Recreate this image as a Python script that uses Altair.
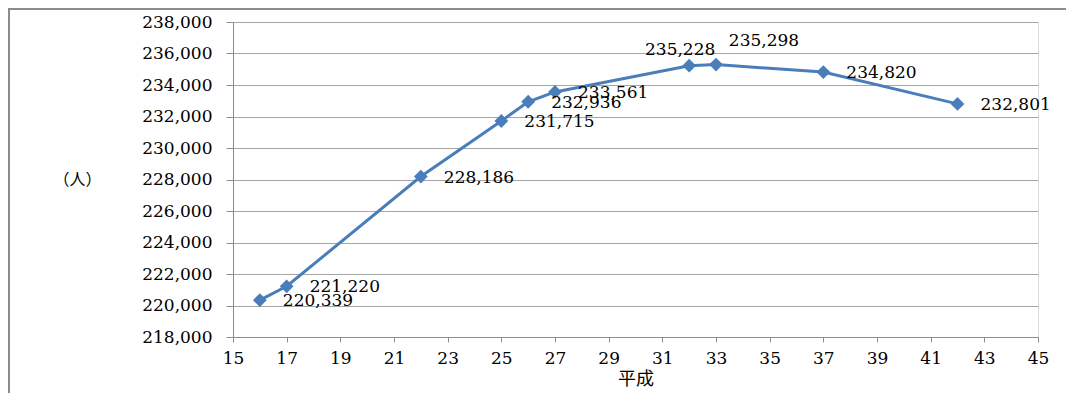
import altair as alt
import pandas as pd

# --- data ---
years = [16, 17, 22, 25, 26, 27, 32, 33, 37, 42]
population = [220339, 221220, 228186, 231715, 232936, 233561, 235228, 235298, 234820, 232801]
x_ticks = list(range(15, 46, 2))
y_ticks = list(range(218000, 238001, 2000))

df = pd.DataFrame({"year": years, "pop": population})

BLUE = "#4a7ebb"
GRAY = "#8c8c8c"
SERIF = "DejaVu Serif"
CJK = "Noto Sans CJK JP"

W, H = 805, 315
PAD = {"left": 225, "top": 14, "right": 28, "bottom": 56}

x_enc = alt.X(
    "year:Q",
    scale=alt.Scale(domain=[15, 45], nice=False, zero=False),
    axis=alt.Axis(
        values=x_ticks, title="平成", grid=False, format="d",
        labelOverlap=False, labelFlush=False,
        labelFont=SERIF, labelFontSize=17, labelColor="#000000", labelPadding=8,
        tickSize=5, tickColor=GRAY, domainColor=GRAY,
        titleFont=CJK, titleFontSize=18, titleFontWeight="normal",
        titleColor="#000000", titlePadding=4,
    ),
)
y_enc = alt.Y(
    "pop:Q",
    scale=alt.Scale(domain=[218000, 238000], nice=False, zero=False),
    axis=alt.Axis(
        values=y_ticks, tickCount=11, format=",d", title="（人）", grid=True, gridColor="#a6a6a6",
        labelOverlap=False, labelFlush=False,
        labelFont=SERIF, labelFontSize=17, labelColor="#000000", labelPadding=14,
        tickSize=7, tickColor=GRAY, domainColor=GRAY,
        titleFont=CJK, titleFontSize=16, titleFontWeight="normal", titleColor="#000000",
        titleAngle=0, titleX=-156, titleY=157, titleAlign="center", titleBaseline="middle",
    ),
)

base = alt.Chart(df)

line = base.mark_line(color=BLUE, strokeWidth=3).encode(x=x_enc, y=y_enc)
pts = base.mark_point(shape="diamond", filled=True, color=BLUE, size=190, opacity=1).encode(
    x=x_enc, y=y_enc
)

txt_kw = dict(font=SERIF, fontSize=17, color="#000000", baseline="middle")
labels_right = base.transform_filter(
    (alt.datum.year != 32) & (alt.datum.year != 33)
).mark_text(align="left", dx=23, dy=1, **txt_kw).encode(
    x=x_enc, y=y_enc, text=alt.Text("pop:Q", format=",")
)
label_32 = base.transform_filter(alt.datum.year == 32).mark_text(
    align="center", dx=-9, dy=-16, **txt_kw
).encode(x=x_enc, y=y_enc, text=alt.Text("pop:Q", format=","))
label_33 = base.transform_filter(alt.datum.year == 33).mark_text(
    align="center", dx=48, dy=-24, **txt_kw
).encode(x=x_enc, y=y_enc, text=alt.Text("pop:Q", format=","))

frame_df = pd.DataFrame({"k": [0]})
left_border = alt.Chart(frame_df).mark_rule(color=GRAY, strokeWidth=2).encode(
    x=alt.value(-PAD["left"] + 1), y=alt.value(-PAD["top"]), y2=alt.value(H + PAD["bottom"])
)
top_border = alt.Chart(frame_df).mark_rule(color=GRAY, strokeWidth=2).encode(
    x=alt.value(-PAD["left"]), x2=alt.value(W + PAD["right"]), y=alt.value(-PAD["top"] + 1)
)

chart = alt.layer(
    line, pts, labels_right, label_32, label_33, left_border, top_border
).properties(
    width=W, height=H,
    autosize=alt.AutoSizeParams(type="none"),
    padding=PAD,
).configure_view(stroke=None).configure(background="white")

chart.save("out.html", embed_options={"renderer": "svg", "actions": False})
